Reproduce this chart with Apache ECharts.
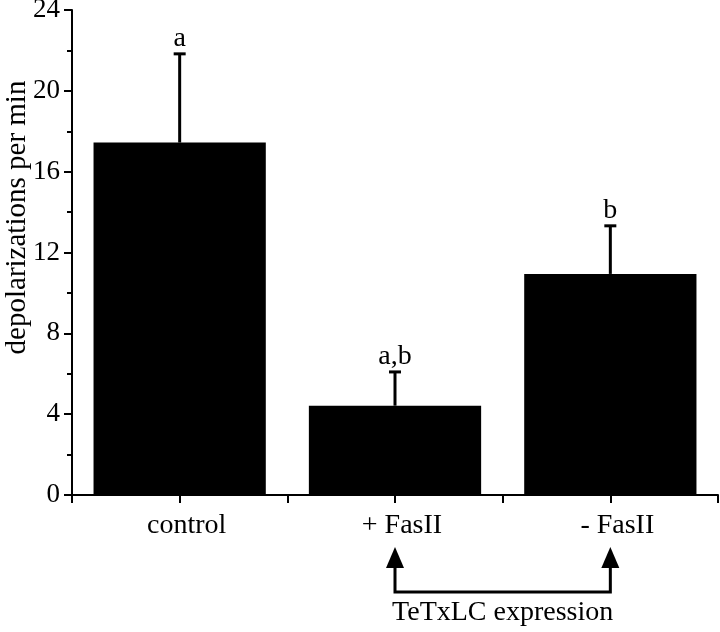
<!DOCTYPE html>
<html><head><meta charset="utf-8">
<script src="https://cdn.jsdelivr.net/npm/echarts@6/dist/echarts.min.js"></script>
<style>html,body{margin:0;padding:0;background:#fff}#c{width:720px;height:632px}</style>
</head><body><div id="c"></div>
<script>
const categories = ['control', '+ FasII', '- FasII'];
const means = [17.44, 4.42, 10.94];
const errTops = [21.83, 6.09, 13.32];
const sigLabels = ['a', 'a,b', 'b'];
const yTicks = [0, 4, 8, 12, 16, 20, 24];
const bracketText = 'TeTxLC expression';
const bracketFrom = 1, bracketTo = 2;

const FONT = '"Liberation Serif", "DejaVu Serif", serif';
const chart = echarts.init(document.getElementById('c'));
const option = {
  animation: false,
  grid: { left: 72, right: 2, top: 10, bottom: 137, containLabel: false, outerBoundsMode: 'none' },
  xAxis: [{
    type: 'category', data: categories,
    axisLine: { lineStyle: { color: '#000', width: 2 } },
    axisTick: { show: true, length: 8, lineStyle: { color: '#000', width: 2 } },
    axisLabel: { color: '#000', fontFamily: FONT, fontSize: 28, margin: 17, padding: [0, 0, 0, 14] }
  }, {
    type: 'category', data: categories, position: 'bottom',
    axisLine: { show: false },
    axisTick: { show: true, alignWithLabel: true, length: 8, lineStyle: { color: '#000', width: 2 } },
    axisLabel: { show: false }
  }],
  yAxis: {
    type: 'value', min: 0, max: 24, interval: 4,
    name: 'depolarizations per min', nameLocation: 'middle', nameGap: 40, nameMoveOverlap: false,
    nameTextStyle: { color: '#000', fontFamily: FONT, fontSize: 29, padding: [0, 0, 0, 70] },
    axisLine: { show: true, lineStyle: { color: '#000', width: 2 } },
    axisTick: { show: true, length: 8, lineStyle: { color: '#000', width: 2 } },
    minorTick: { show: true, splitNumber: 2, length: 5, lineStyle: { color: '#000', width: 2 } },
    splitLine: { show: false },
    axisLabel: { color: '#000', fontFamily: FONT, fontSize: 27, margin: 12,
      formatter: v => yTicks.includes(v) ? String(v) : '' }
  },
  series: [{
    type: 'bar', data: means, barWidth: '80%',
    itemStyle: { color: '#000' }, z: 2
  }, {
    type: 'custom', z: 3,
    data: categories.map((c, i) => [i, means[i], errTops[i]]),
    renderItem: function (params, api) {
      const x = api.value(0);
      const base = api.coord([x, api.value(1)]);
      const top = api.coord([x, api.value(2)]);
      const capW = 12;
      return {
        type: 'group',
        children: [
          { type: 'line', shape: { x1: base[0], y1: base[1], x2: top[0], y2: top[1] },
            style: { stroke: '#000', lineWidth: 3 } },
          { type: 'line', shape: { x1: top[0] - capW / 2, y1: top[1], x2: top[0] + capW / 2, y2: top[1] },
            style: { stroke: '#000', lineWidth: 3 } },
          { type: 'text', style: { x: top[0], y: top[1] - 1, text: sigLabels[params.dataIndex],
            fill: '#000', font: '28px ' + FONT, textAlign: 'center', textVerticalAlign: 'bottom' } }
        ]
      };
    }
  }]
};
chart.setOption(option);

// bracket annotation below axis
const p1 = chart.convertToPixel({ xAxisIndex: 0 }, bracketFrom);
const p2 = chart.convertToPixel({ xAxisIndex: 0 }, bracketTo);
const headTop = 547, headBot = 568, lineY = 592, headHalf = 9;
chart.setOption({
  graphic: [
    { type: 'polyline', shape: { points: [[p1, headBot], [p1, lineY], [p2, lineY], [p2, headBot]] },
      style: { stroke: '#000', lineWidth: 3, fill: null } },
    { type: 'polygon', shape: { points: [[p1, headTop], [p1 - headHalf, headBot], [p1 + headHalf, headBot]] },
      style: { fill: '#000' } },
    { type: 'polygon', shape: { points: [[p2, headTop], [p2 - headHalf, headBot], [p2 + headHalf, headBot]] },
      style: { fill: '#000' } },
    { type: 'text', x: (p1 + p2) / 2, y: 613,
      style: { text: bracketText, fill: '#000', font: '28px ' + FONT, textAlign: 'center', textVerticalAlign: 'middle' } }
  ]
});
</script></body></html>
